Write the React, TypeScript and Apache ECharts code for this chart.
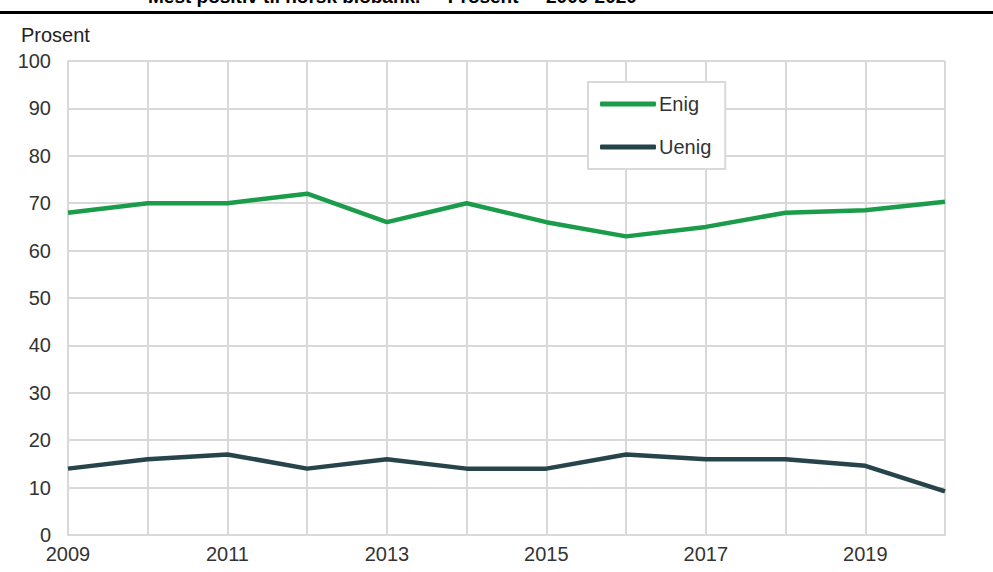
import React, { useEffect, useRef } from "react";
import * as echarts from "echarts";

const years = ["2009", "2010", "2011", "2012", "2013", "2014", "2015", "2016", "2017", "2018", "2019", "2020"];
const enig = [68, 70, 70, 72, 66, 70, 66, 63, 65, 68, 68.5, 70.3];
const uenig = [14, 16, 17, 14, 16, 14, 14, 17, 16, 16, 14.6, 9.2];
const titleText = "Mest positiv til norsk biobank.  ·  Prosent  ·  2009-2020";

export default function App() {
  const ref = useRef<HTMLDivElement>(null);
  useEffect(() => {
    if (!ref.current) return;
    const chart = echarts.init(ref.current, undefined, { renderer: "svg" });
    const font = "'Liberation Sans', Arial, sans-serif";
    chart.setOption({
      animation: false,
      backgroundColor: "#ffffff",
      textStyle: { fontFamily: font },
      grid: { left: 68, right: 48, top: 61, bottom: 37, containLabel: false },
      graphic: [
        {
          type: "text",
          left: 148,
          top: -13,
          style: { text: titleText, font: `bold 19px ${font}`, fill: "#000" },
        },
        { type: "rect", shape: { x: 0, y: 11, width: 993, height: 3 }, style: { fill: "#000" } },
        {
          type: "text",
          left: 21,
          top: 25,
          style: { text: "Prosent", font: `20px ${font}`, fill: "#222" },
        },
      ],
      legend: {
        orient: "vertical",
        left: 588,
        top: 82,
        padding: [12, 14, 12, 12],
        itemGap: 23,
        itemWidth: 56,
        itemHeight: 5,
        icon: "roundRect",
        borderColor: "#d9d9d9",
        borderWidth: 2,
        backgroundColor: "#fff",
        textStyle: { fontSize: 20, color: "#333", fontFamily: font, padding: [0, 8, 0, -2] },
        data: ["Enig", "Uenig"],
      },
      xAxis: {
        type: "category",
        data: years,
        boundaryGap: false,
        axisLine: { show: true, lineStyle: { color: "#d9d9d9", width: 2 } },
        axisTick: { show: false },
        axisLabel: { interval: 1, color: "#333", fontSize: 20, margin: 9, fontFamily: font },
        splitLine: { show: true, interval: 0, lineStyle: { color: "#d9d9d9", width: 2 } },
      },
      yAxis: {
        type: "value",
        min: 0,
        max: 100,
        interval: 10,
        axisLine: { show: true, lineStyle: { color: "#d9d9d9", width: 2 } },
        axisTick: { show: false },
        axisLabel: { color: "#333", fontSize: 20, margin: 17, fontFamily: font },
        splitLine: { show: true, lineStyle: { color: "#d9d9d9", width: 2 } },
      },
      series: [
        {
          name: "Enig",
          type: "line",
          data: enig,
          symbol: "none",
          lineStyle: { color: "#1b9c4a", width: 4.5 },
          itemStyle: { color: "#1b9c4a" },
        },
        {
          name: "Uenig",
          type: "line",
          data: uenig,
          symbol: "none",
          lineStyle: { color: "#26444a", width: 4.5 },
          itemStyle: { color: "#26444a" },
        },
      ],
    });
    return () => chart.dispose();
  }, []);
  return <div ref={ref} style={{ position: "fixed", left: 0, top: 0, width: 993, height: 572 }} />;
}
